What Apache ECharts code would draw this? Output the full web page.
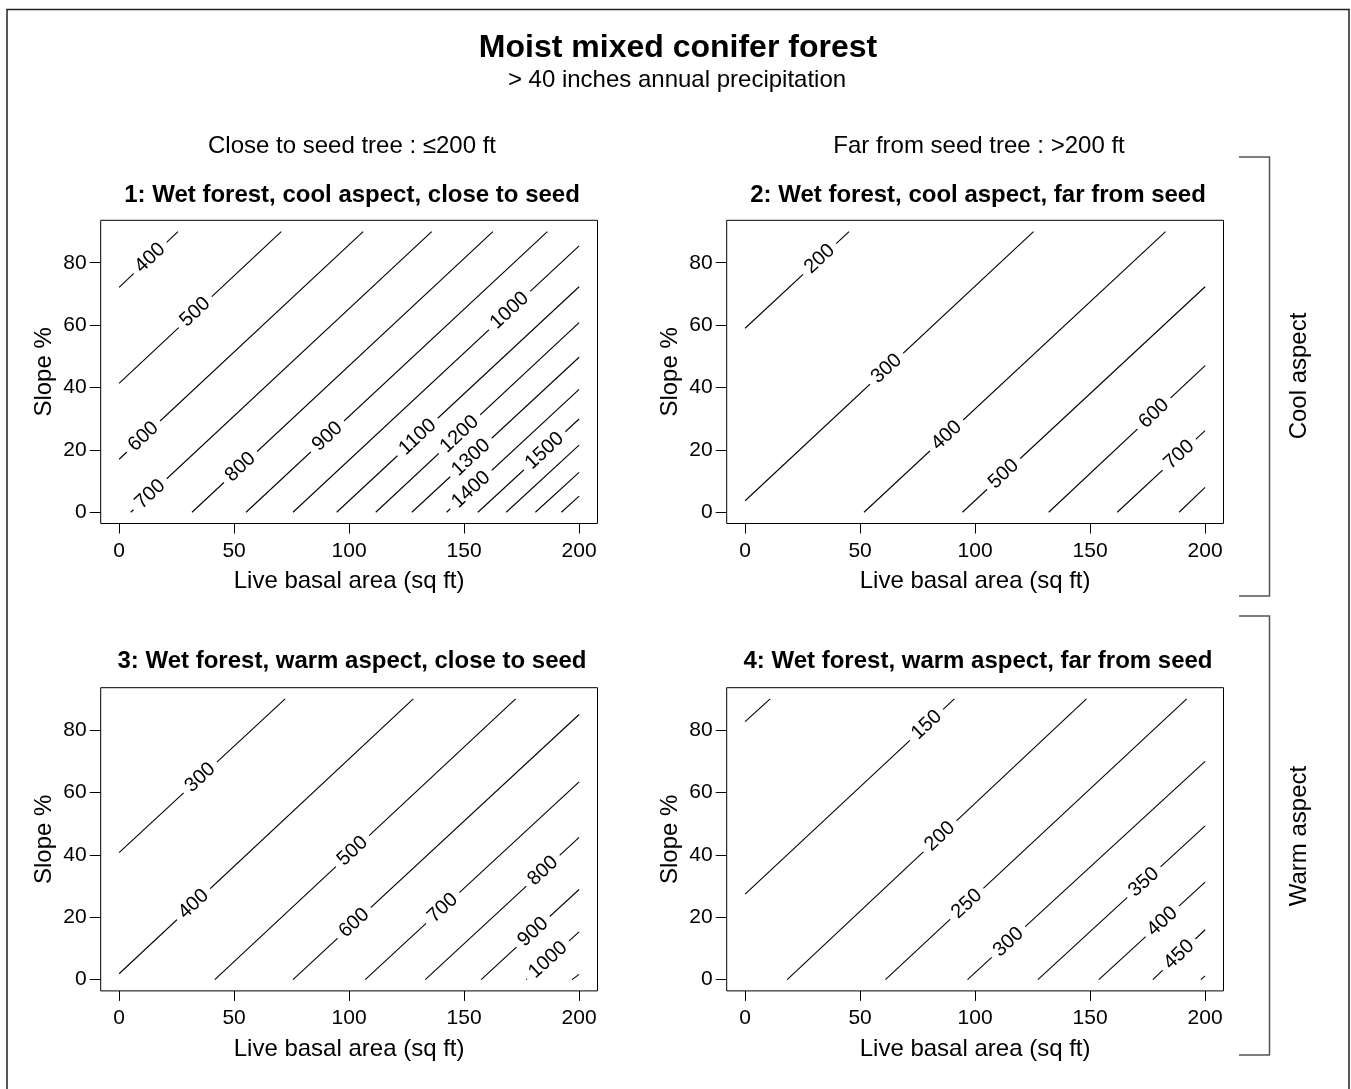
<!DOCTYPE html>
<html>
<head>
<meta charset="utf-8">
<script src="https://cdn.jsdelivr.net/npm/echarts@6/dist/echarts.min.js"></script>
<style>
html,body{margin:0;padding:0;background:#fff;}
#chart{width:1351px;height:1089px;}
</style>
</head>
<body>
<div id="chart"></div>
<script>
// ---------- data ----------
const xTicks = [0, 50, 100, 150, 200];
const yTicks = [0, 20, 40, 60, 80];

const panelTitles = [
  '1: Wet forest, cool aspect, close to seed',
  '2: Wet forest, cool aspect, far from seed',
  '3: Wet forest, warm aspect, close to seed',
  '4: Wet forest, warm aspect, far from seed'
];

// Panel 1 contours: level, start point, end point (data units), label x
const p1Levels = [400, 500, 600, 700, 800, 900, 1000, 1100, 1200, 1300, 1400, 1500, 1600, 1700, 1800];
const p1From = [[0,72.1],[0,41.3],[0,17.0],[5.1,0],[31.7,0],[55.2,0],[75.6,0],[94.6,0],[111.6,0],[127.3,0],[142.4,0],[156,0],[168.3,0],[181,0],[192.3,0]];
const p1To = [[25.6,90],[70.5,90],[106.1,90],[135.9,90],[162.5,90],[186.2,90],[200,85.4],[200,72.3],[200,60.8],[200,49.7],[200,39.4],[200,29.9],[200,21.5],[200,12.8],[200,5.2]];
const p1LabelX = [13.5, 33.1, 10.6, 13.5, 52.8, 90.6, 169.8, 129.8, 148, 153, 153, 185, null, null, null];

// Panel 2
const p2Levels = [200, 300, 400, 500, 600, 700, 800];
const p2From = [[0,59.0],[0,3.7],[51.7,0],[94.5,0],[132,0],[161.8,0],[188.7,0]];
const p2To = [[45.2,90],[125.4,90],[182.8,90],[200,72.3],[200,47.0],[200,26.2],[200,8.0]];
const p2LabelX = [32.4, 61.5, 87.6, 112.4, 177.8, 188.7, null];

// Panel 3
const p3Levels = [300, 400, 500, 600, 700, 800, 900, 1000, 1100];
const p3From = [[0,40.7],[0,1.9],[41.6,0],[75.6,0],[107,0],[133.1,0],[157.4,0],[177,0],[196.9,0]];
const p3To = [[72.2,90],[127.9,90],[172.4,90],[200,85.0],[200,63.4],[200,45.6],[200,28.9],[200,15.3],[200,1.7]];
const p3LabelX = [35.3, 32.4, 101.5, 102.2, 140.7, 184.3, 180, 186.5, null];

// Panel 4
const p4Levels = [100, 150, 200, 250, 300, 350, 400, 450, 500];
const p4From = [[0,82.7],[0,27.4],[18.3,0],[61,0],[96.7,0],[127.3,0],[153.8,0],[177.3,0],[198.1,0]];
const p4To = [[10.9,90],[91,90],[148.4,90],[192,90],[200,70],[200,49.3],[200,31.3],[200,16],[200,1.2]];
const p4LabelX = [null, 78.9, 84.7, 96.4, 114.5, 173.4, 181.4, 188.7, null];

// ---------- layout / style ----------
const FONT = "'Liberation Sans', Arial, Helvetica, sans-serif";
const panels = [
  {levels:p1Levels, from:p1From, to:p1To, lx:p1LabelX},
  {levels:p2Levels, from:p2From, to:p2To, lx:p2LabelX},
  {levels:p3Levels, from:p3From, to:p3To, lx:p3LabelX},
  {levels:p4Levels, from:p4From, to:p4To, lx:p4LabelX}
];
const gridPos = [
  {left:100.7, top:220.3},
  {left:726.7, top:220.3},
  {left:100.7, top:687.7},
  {left:726.7, top:687.7}
];
const GW = 496.8, GH = 303.2;

const grids = gridPos.map(g => ({
  left:g.left, top:g.top, width:GW, height:GH,
  show:true, borderColor:'#000', borderWidth:1, backgroundColor:'transparent',
  containLabel:false
}));

const xAxes = gridPos.map((g,i) => ({
  type:'value', gridIndex:i, min:-8, max:208, position:'bottom',
  axisLine:{show:false, onZero:false},
  splitLine:{show:false},
  axisTick:{show:true, inside:false, length:10, lineStyle:{color:'#000', width:1}, customValues:xTicks},
  axisLabel:{show:true, margin:17, color:'#000', fontFamily:FONT, fontSize:21, customValues:xTicks},
  name:'Live basal area (sq ft)', nameLocation:'middle', nameGap:46,
  nameTextStyle:{color:'#000', fontFamily:FONT, fontSize:24}
}));

const yAxes = gridPos.map((g,i) => ({
  type:'value', gridIndex:i, min:-3.6, max:93.6, position:'left',
  axisLine:{show:false, onZero:false},
  splitLine:{show:false},
  axisTick:{show:true, inside:false, length:11, lineStyle:{color:'#000', width:1}, customValues:yTicks},
  axisLabel:{show:true, margin:14, color:'#000', fontFamily:FONT, fontSize:21, customValues:yTicks},
  name:'Slope %', nameLocation:'middle', nameGap:44, nameRotate:90,
  nameTextStyle:{color:'#000', fontFamily:FONT, fontSize:24}
}));

const series = [];
panels.forEach((p, i) => {
  series.push({
    type:'lines', coordinateSystem:'cartesian2d', xAxisIndex:i, yAxisIndex:i,
    silent:true, z:2, clip:true,
    lineStyle:{color:'#000', width:1.1, opacity:1, curveness:0},
    data:p.levels.map((lv, k) => ({name:String(lv), coords:[p.from[k], p.to[k]]}))
  });
  const labData = [];
  p.levels.forEach((lv, k) => {
    if (p.lx[k] != null) labData.push([p.lx[k], p.from[k][0], p.from[k][1], p.to[k][0], p.to[k][1], lv]);
  });
  series.push({
    type:'custom', coordinateSystem:'cartesian2d', xAxisIndex:i, yAxisIndex:i,
    silent:true, z:3,
    dimensions:['lx','x0','y0','x1','y1','level'],
    encode:{x:0, y:2},
    data:labData,
    renderItem:function(params, api){
      const lx = api.value(0), x0 = api.value(1), y0 = api.value(2), x1 = api.value(3), y1 = api.value(4);
      const t = (lx - x0) / (x1 - x0);
      const ly = y0 + t * (y1 - y0);
      const pt = api.coord([lx, ly]);
      const a = api.coord([x0, y0]);
      const b = api.coord([x1, y1]);
      const ang = Math.atan2(a[1] - b[1], b[0] - a[0]);
      return {
        type:'text', x:pt[0], y:pt[1], rotation:ang,
        style:{
          text:String(api.value(5)), x:0, y:0, align:'center', verticalAlign:'middle',
          fill:'#000', font:'20px ' + FONT, backgroundColor:'#fff', padding:[0,6]
        }
      };
    }
  });
});

function txt(x, y, text, size, bold, extra){
  return Object.assign({
    type:'text', x:x, y:y, silent:true,
    style:{text:text, fill:'#000', align:'center', verticalAlign:'middle',
      font:(bold ? 'bold ' : '') + size + 'px ' + FONT}
  }, extra || {});
}

const graphics = [
  {type:'rect', silent:true, shape:{x:7, y:9.5, width:1342, height:1100},
   style:{fill:'none', stroke:'#222', lineWidth:1.5}},
  txt(678, 48, 'Moist mixed conifer forest', 32, true),
  txt(677, 80, '> 40 inches annual precipitation', 24, false),
  txt(352, 146, 'Close to seed tree : \u2264200 ft', 24, false),
  txt(979, 146, 'Far from seed tree : >200 ft', 24, false),
  txt(352, 195, panelTitles[0], 24, true),
  txt(978, 195, panelTitles[1], 24, true),
  txt(352, 661, panelTitles[2], 24, true),
  txt(978, 661, panelTitles[3], 24, true),
  {type:'polyline', silent:true, shape:{points:[[1239,157],[1269.5,157],[1269.5,596],[1239,596]]},
   style:{fill:'none', stroke:'#555', lineWidth:1.5}},
  {type:'polyline', silent:true, shape:{points:[[1239,616],[1269.5,616],[1269.5,1055],[1239,1055]]},
   style:{fill:'none', stroke:'#555', lineWidth:1.5}},
  txt(1299, 376, 'Cool aspect', 24, false, {rotation:Math.PI/2}),
  txt(1299, 836, 'Warm aspect', 24, false, {rotation:Math.PI/2})
];

const chart = echarts.init(document.getElementById('chart'), null, {renderer:'canvas'});
chart.setOption({
  animation:false,
  backgroundColor:'#fff',
  grid:grids,
  xAxis:xAxes,
  yAxis:yAxes,
  series:series,
  graphic:graphics
});
</script>
</body>
</html>
